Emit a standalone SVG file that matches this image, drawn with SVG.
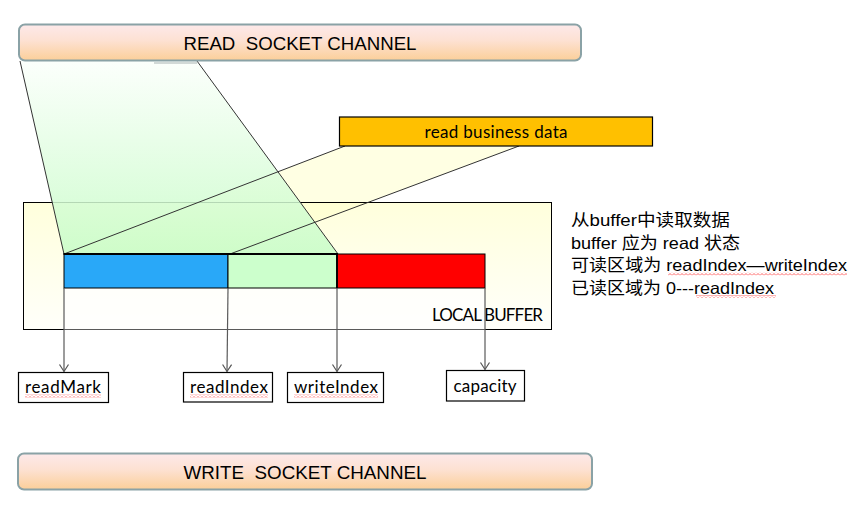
<svg xmlns="http://www.w3.org/2000/svg" width="861" height="528" viewBox="0 0 861 528">
  <defs>
    <linearGradient id="channelFill" x1="0" y1="0" x2="0" y2="1">
      <stop offset="0" stop-color="#fde9ea"/>
      <stop offset="0.45" stop-color="#fde1d2"/>
      <stop offset="1" stop-color="#fbcf99"/>
    </linearGradient>
    <linearGradient id="bufferFill" x1="0" y1="0" x2="0" y2="1">
      <stop offset="0" stop-color="#ffffdc"/>
      <stop offset="1" stop-color="#fffffa"/>
    </linearGradient>
    <linearGradient id="readFlowFill" gradientUnits="userSpaceOnUse" x1="0" y1="61" x2="0" y2="254">
      <stop offset="0" stop-color="#fbfffb"/>
      <stop offset="1" stop-color="#c6fcc6"/>
    </linearGradient>
    <pattern id="squiggle" width="4" height="3" patternUnits="userSpaceOnUse">
      <polyline points="0,2.5 2,0.5 4,2.5" fill="none" stroke="#ff3b3b" stroke-width="0.8"/>
    </pattern>
    <marker id="openArrow" markerWidth="12" markerHeight="12" refX="10" refY="6" orient="auto" markerUnits="userSpaceOnUse">
      <polyline points="3,1.5 10,6 3,10.5" fill="none" stroke="#555" stroke-width="1.2"/>
    </marker>
  </defs>
  <style>
    .channel rect { fill: url(#channelFill); stroke: #8aa2a6; stroke-width: 2; }
    .channel text { font-family: "Liberation Sans", Arial, sans-serif; font-size: 17.5px; fill: #000; text-anchor: middle; white-space: pre; }
    .edge { stroke: #333; stroke-width: 1; fill: none; }
    .label rect { fill: #fff; stroke: #000; stroke-width: 1.2; }
    .label text, .caption { font-family: Lato, "Open Sans", sans-serif; font-size: 17px; fill: #000; text-anchor: middle; }
    rect.squig, .label rect.squig { fill: url(#squiggle); stroke: none; }
    .note { font-family: "Liberation Sans", "Noto Sans CJK SC", sans-serif; font-size: 16.5px; fill: #000; }
    .seg { stroke: #000; stroke-width: 1; }
    .arrow { stroke: #5a5a5a; stroke-width: 1.2; fill: none; marker-end: url(#openArrow); }
  </style>

  <!-- local buffer frame (fill first so the flow shapes sit on it) -->
  <rect x="23.5" y="202.5" width="528" height="127" fill="url(#bufferFill)"/>

  <!-- business data flow into the buffer -->
  <polygon points="345,146 519,146 230,254 64,254" fill="#ffffcc" fill-opacity="0.55"/>

  <g id="local-buffer">
    <rect x="23.5" y="202.5" width="528" height="127" fill="none" stroke="#000" stroke-width="1"/>
    <rect x="64" y="288" width="421" height="41.5" fill="#ffffff" fill-opacity="0.7"/>
  </g>

  <!-- data read from the socket channel -->
  <g id="read-flow">
    <polygon points="20,61 197,61 338,254 64,254" fill="url(#readFlowFill)" fill-opacity="0.85"/>
    <line class="edge" x1="20" y1="61" x2="64" y2="254"/>
    <line class="edge" x1="197" y1="61" x2="338" y2="254"/>
    <line x1="154" y1="63" x2="197" y2="63" stroke="#a9b3b3" stroke-width="1"/>
  </g>

  <g id="business-flow">
    <line class="edge" x1="345" y1="146" x2="64" y2="254"/>
    <line class="edge" x1="519" y1="146" x2="230" y2="254"/>
  </g>

  <g id="read-channel" class="channel">
    <rect x="19" y="24.5" width="562" height="36" rx="6"/>
    <text x="300" y="49.5" textLength="233" lengthAdjust="spacingAndGlyphs">READ  SOCKET CHANNEL</text>
  </g>

  <g id="business-data">
    <rect x="339.5" y="117" width="313" height="29" fill="#ffc000" stroke="#000" stroke-width="1.2"/>
    <text class="caption" x="496" y="137.5" textLength="143">read business data</text>
  </g>

  <!-- buffer regions: read, readable, writable -->
  <g id="buffer-bar">
    <rect class="seg" x="64" y="254" width="164" height="34" fill="#29a8f8"/>
    <rect class="seg" x="228" y="254" width="109" height="34" fill="#ccffcc"/>
    <rect class="seg" x="337" y="254" width="148" height="34" fill="#ff0000"/>
    <line x1="63.5" y1="254" x2="338" y2="254" stroke="#000" stroke-width="2.2"/>
    <line x1="337" y1="254" x2="337" y2="288" stroke="#000" stroke-width="1.8"/>
  </g>

  <text class="caption" x="487.5" y="320.5" textLength="111">LOCAL BUFFER</text>

  <g id="notes" class="note">
    <text x="571" y="226" textLength="159" lengthAdjust="spacingAndGlyphs">从buffer中读取数据</text>
    <text x="571" y="248.5" textLength="169" lengthAdjust="spacingAndGlyphs">buffer 应为 read 状态</text>
    <text x="571" y="271" textLength="276" lengthAdjust="spacingAndGlyphs">可读区域为 readIndex—writeIndex</text>
    <text x="571" y="293.5" textLength="203" lengthAdjust="spacingAndGlyphs">已读区域为 0---readIndex</text>
    <rect class="squig" x="668" y="272.5" width="179" height="3"/>
    <rect class="squig" x="696" y="295" width="80" height="3"/>
  </g>

  <g id="connectors">
    <line class="arrow" x1="64" y1="288" x2="64" y2="371.5"/>
    <line class="arrow" x1="228" y1="288" x2="227" y2="371.5"/>
    <line class="arrow" x1="337" y1="288" x2="337" y2="371.5"/>
    <line class="arrow" x1="485" y1="288" x2="485" y2="369.5"/>
  </g>

  <g id="readMark" class="label">
    <rect x="18.5" y="372.5" width="90" height="30"/>
    <text x="63" y="393" textLength="76">readMark</text>
    <rect class="squig" x="25" y="394.5" width="76" height="3"/>
  </g>

  <g id="readIndex" class="label">
    <rect x="183.5" y="372.5" width="89" height="29.5"/>
    <text x="229" y="393" textLength="78">readIndex</text>
    <rect class="squig" x="190" y="394.5" width="78" height="3"/>
  </g>

  <g id="writeIndex" class="label">
    <rect x="287.5" y="372.5" width="96" height="30"/>
    <text x="336" y="393" textLength="84">writeIndex</text>
    <rect class="squig" x="294" y="394.5" width="84" height="3"/>
  </g>

  <g id="capacity" class="label">
    <rect x="446.5" y="370.5" width="78" height="30.5"/>
    <text x="485" y="391.5" textLength="63">capacity</text>
  </g>

  <g id="write-channel" class="channel">
    <rect x="18" y="453.5" width="574" height="36" rx="6"/>
    <text x="305" y="478.5" textLength="243" lengthAdjust="spacingAndGlyphs">WRITE  SOCKET CHANNEL</text>
  </g>
</svg>
